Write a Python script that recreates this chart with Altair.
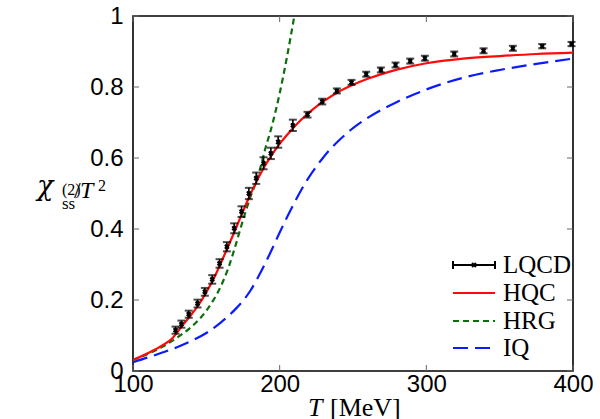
import altair as alt
import pandas as pd

# Lattice QCD points: temperature [MeV], chi_ss^(2)/T^2 and its error
lqcd_T = [129, 133, 138, 144, 149, 154, 159, 164, 169, 174, 179, 184, 189, 194, 199,
          209, 219, 229, 239, 249, 259, 269, 279, 289, 299, 319, 339, 359, 379, 399]
lqcd_chi = [0.115, 0.132, 0.160, 0.190, 0.223, 0.258, 0.303, 0.350, 0.402, 0.449, 0.500,
            0.543, 0.585, 0.613, 0.645, 0.692, 0.722, 0.759, 0.789, 0.813, 0.836, 0.848,
            0.862, 0.873, 0.881, 0.893, 0.902, 0.909, 0.915, 0.921]
lqcd_err = [0.010, 0.010, 0.010, 0.011, 0.011, 0.012, 0.012, 0.013, 0.014, 0.015, 0.016,
            0.016, 0.017, 0.016, 0.016, 0.016, 0.008, 0.008, 0.007, 0.007, 0.007, 0.007,
            0.007, 0.007, 0.007, 0.007, 0.007, 0.007, 0.006, 0.006]

# Hadron-quark crossover model
hqc_T = [100, 110, 120, 127, 130, 135, 140, 145, 150, 155, 160, 165, 170, 175, 180, 185,
         190, 195, 200, 205, 210, 215, 220, 225, 230, 240, 250, 260, 270, 280, 300, 325,
         350, 375, 400]
hqc_chi = [0.031, 0.050, 0.072, 0.093, 0.108, 0.135, 0.160, 0.188, 0.222, 0.260, 0.305,
           0.352, 0.400, 0.450, 0.497, 0.540, 0.578, 0.611, 0.640, 0.665, 0.688, 0.709,
           0.728, 0.745, 0.760, 0.786, 0.806, 0.823, 0.837, 0.849, 0.867, 0.880, 0.887,
           0.893, 0.897]

# Hadron resonance gas
hrg_T = [100, 110, 120, 130, 140, 150, 160, 165, 170, 175, 180, 185, 190, 195, 200, 205, 210]
hrg_chi = [0.031, 0.048, 0.068, 0.094, 0.125, 0.170, 0.240, 0.290, 0.355, 0.425, 0.490,
           0.545, 0.623, 0.695, 0.782, 0.885, 1.0]

# Ideal quark gas
iq_T = [100, 110, 120, 130, 140, 150, 160, 170, 175, 180, 185, 190, 195, 200, 205, 210,
        215, 220, 225, 230, 235, 240, 250, 260, 280, 300, 325, 350, 375, 400]
iq_chi = [0.025, 0.038, 0.052, 0.067, 0.085, 0.107, 0.137, 0.175, 0.198, 0.226, 0.262,
          0.302, 0.345, 0.390, 0.433, 0.474, 0.512, 0.546, 0.576, 0.603, 0.627, 0.648,
          0.684, 0.713, 0.758, 0.793, 0.826, 0.848, 0.865, 0.880]

legend_labels = ["LQCD", "HQC", "HRG", "IQ"]

x_ticks = [100, 200, 300, 400]
y_ticks = [0, 0.2, 0.4, 0.6, 0.8, 1.0]

W, H = 440, 355
SERIF = "Liberation Serif"
SANS = "Liberation Sans"

xs = alt.Scale(domain=[100, 400], nice=False, zero=False)
ys = alt.Scale(domain=[0, 1], nice=False)

pts = pd.DataFrame({"T": lqcd_T, "chi": lqcd_chi, "err": lqcd_err})
pts["lo"] = pts["chi"] - pts["err"]
pts["hi"] = pts["chi"] + pts["err"]

x_enc = alt.X("T:Q", scale=xs,
              axis=alt.Axis(values=x_ticks, title=None, domain=False, ticks=False, grid=False,
                            labelFont=SANS, labelFontSize=24, labelColor="black",
                            labelPadding=1, labelFlush=False, labelOverlap=False))
y_enc = alt.Y("chi:Q", scale=ys,
              axis=alt.Axis(values=y_ticks, title=None, domain=False, ticks=False, grid=False,
                            format="~g", labelFont=SANS, labelFontSize=24, labelColor="black",
                            labelPadding=10, labelFlush=False, labelOverlap=False))


def curve(T, chi, color, dash=None):
    df = pd.DataFrame({"T": T, "chi": chi})
    kw = dict(color=color, strokeWidth=2.2, clip=True, interpolate="monotone")
    if dash:
        kw["strokeDash"] = dash
    return alt.Chart(df).mark_line(**kw).encode(
        x=alt.X("T:Q", scale=xs), y=alt.Y("chi:Q", scale=ys))


axes_layer = alt.Chart(pts).mark_point(opacity=0).encode(x=x_enc, y=y_enc)

iq_line = curve(iq_T, iq_chi, "#0a1cff", [15, 7])
hrg_line = curve(hrg_T, hrg_chi, "#0a6e0a", [6, 4])
hqc_line = curve(hqc_T, hqc_chi, "#ff0a0a")

bars = alt.Chart(pts).mark_rule(color="black", strokeWidth=1.6).encode(
    x=alt.X("T:Q", scale=xs), y=alt.Y("lo:Q", scale=ys), y2="hi:Q")
cap_lo = alt.Chart(pts).mark_tick(color="black", orient="horizontal", size=8, thickness=2).encode(
    x=alt.X("T:Q", scale=xs), y=alt.Y("lo:Q", scale=ys))
cap_hi = alt.Chart(pts).mark_tick(color="black", orient="horizontal", size=8, thickness=2).encode(
    x=alt.X("T:Q", scale=xs), y=alt.Y("hi:Q", scale=ys))
marks = alt.Chart(pts).mark_point(shape="cross", angle=45, filled=True, color="black",
                                  size=30, opacity=1).encode(
    x=alt.X("T:Q", scale=xs), y=alt.Y("chi:Q", scale=ys))

# inward tick marks on all four sides
xt = pd.DataFrame({"T": x_ticks})
yt = pd.DataFrame({"chi": y_ticks})
tick_style = dict(color="#666666", strokeWidth=1)
xtick_bot = alt.Chart(xt).mark_rule(**tick_style).encode(
    x=alt.X("T:Q", scale=xs), y=alt.value(H), y2=alt.value(H - 6))
xtick_top = alt.Chart(xt).mark_rule(**tick_style).encode(
    x=alt.X("T:Q", scale=xs), y=alt.value(0), y2=alt.value(6))
ytick_l = alt.Chart(yt).mark_rule(**tick_style).encode(
    y=alt.Y("chi:Q", scale=ys), x=alt.value(0), x2=alt.value(6))
ytick_r = alt.Chart(yt).mark_rule(**tick_style).encode(
    y=alt.Y("chi:Q", scale=ys), x=alt.value(W), x2=alt.value(W - 6))

# legend in the lower right corner
leg_y = [249, 277, 305, 332]
sx0, sx1, tx = 320, 362, 370
leg = pd.DataFrame({"label": legend_labels, "y": leg_y})
leg_text = alt.Chart(leg).mark_text(align="left", baseline="middle", font=SERIF,
                                    fontSize=25, color="black").encode(
    x=alt.value(tx), y=alt.Y("y:Q", scale=None), text="label:N")

legend_styles = [
    ("#000000", None), ("#ff0a0a", None), ("#0a6e0a", [6, 4]), ("#0a1cff", [15, 7])]
leg_lines = []
for (col, dash), yy in zip(legend_styles, leg_y):
    kw = dict(color=col, strokeWidth=2.2)
    if dash:
        kw["strokeDash"] = dash
    leg_lines.append(alt.Chart(pd.DataFrame({"y": [yy]})).mark_rule(**kw).encode(
        x=alt.value(sx0), x2=alt.value(sx1), y=alt.Y("y:Q", scale=None)))
lq = pd.DataFrame({"y": [leg_y[0]]})
leg_caps = [alt.Chart(lq).mark_rule(color="black", strokeWidth=2).encode(
    x=alt.value(xx), y=alt.value(leg_y[0] - 4), y2=alt.value(leg_y[0] + 4)) for xx in (sx0, sx1)]
leg_mark = alt.Chart(lq).mark_point(shape="cross", angle=45, filled=True, color="black",
                                    size=30, opacity=1).encode(
    x=alt.value((sx0 + sx1) / 2), y=alt.Y("y:Q", scale=None))

# axis titles
title_df = pd.DataFrame({"k": [0]})


def label(text, x, y, size, style="normal", base="alphabetic", font=SERIF):
    return alt.Chart(title_df).mark_text(text=text, align="left", baseline=base, font=font,
                                         fontSize=size, fontStyle=style, color="black").encode(
        x=alt.value(x), y=alt.value(y))


titles = [
    label("T", 175, 400, 26, "italic"),
    label("[MeV]", 197, 400, 26),
    label("χ", -96, 179, 27, "italic", font="DejaVu Serif"),
    label("(2)", -71, 179, 16),
    label("ss", -71, 193, 17),
    label("/", -59, 182, 24),
    label("T", -53, 182, 24, "italic"),
    label("2", -35, 175, 16),
]

chart = alt.layer(
    axes_layer, iq_line, hrg_line, hqc_line, bars, cap_lo, cap_hi, marks,
    xtick_bot, xtick_top, ytick_l, ytick_r,
    *leg_lines, *leg_caps, leg_mark, leg_text, *titles,
).properties(
    width=W, height=H,
    autosize=alt.AutoSizeParams(type="none"),
    padding={"left": 133, "top": 16, "right": 27, "bottom": 48},
    background="white",
).configure_view(stroke="black", strokeWidth=1.6)

chart.save("out.html", embed_options={"renderer": "svg", "actions": False})
